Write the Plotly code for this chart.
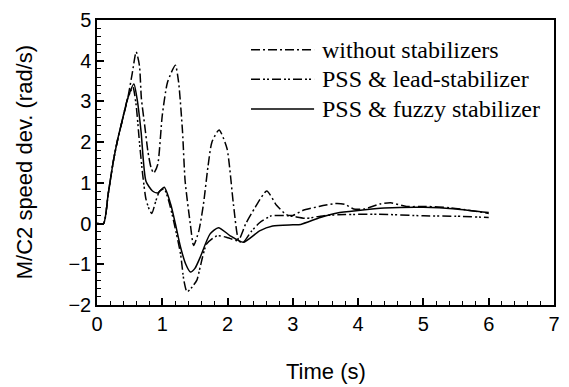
import plotly.graph_objects as go

# ---- data ----
t_without = [0, 0.1, 0.17, 0.25, 0.32, 0.37, 0.47, 0.54, 0.6, 0.65, 0.68, 0.73, 0.78, 0.83, 0.87, 0.93,
             1.0, 1.08, 1.2, 1.25, 1.31, 1.35, 1.43, 1.48, 1.56, 1.63, 1.7, 1.76, 1.87, 1.99, 2.09,
             2.17, 2.28, 2.42, 2.6, 2.75, 2.9, 3.0, 3.15, 3.4, 3.65, 3.8, 3.93, 4.1, 4.33, 4.5,
             4.74, 5.04, 5.4, 6.0]
v_without = [0, 0, 0.71, 1.53, 2.09, 2.42, 3.07, 3.69, 4.22, 3.88, 3.07, 2.42, 1.77, 1.36, 1.24, 1.45,
             2.66, 3.47, 3.89, 3.47, 2.26, 1.04, -0.02, -0.54, -0.18, 0.47, 1.4, 2.0, 2.3, 1.85, 0.47,
             -0.4, 0.0, 0.39, 0.8, 0.45, 0.22, 0.2, 0.32, 0.42, 0.49, 0.47, 0.36, 0.36, 0.48, 0.51,
             0.42, 0.42, 0.39, 0.25]

t_lead = [0, 0.1, 0.17, 0.25, 0.32, 0.37, 0.47, 0.55, 0.6, 0.65, 0.7, 0.75, 0.8, 0.84, 0.9, 0.96,
          1.03, 1.1, 1.18, 1.28, 1.33, 1.38, 1.46, 1.53, 1.58, 1.68, 1.84, 1.99, 2.14, 2.24, 2.36,
          2.49, 2.67, 2.95, 3.2, 3.5, 3.8, 4.3, 5.0, 5.5, 6.0]
v_lead = [0, 0, 0.71, 1.53, 2.09, 2.42, 3.07, 3.35, 2.9, 2.0, 1.2, 0.6, 0.35, 0.25, 0.55, 0.8,
          0.85, 0.55, 0.02, -0.75, -1.39, -1.68, -1.55, -1.39, -1.07, -0.5, -0.3, -0.34, -0.42, -0.46, -0.2,
          0.02, 0.19, 0.19, 0.13, 0.2, 0.22, 0.23, 0.19, 0.18, 0.15]

t_fuzzy = [0, 0.1, 0.17, 0.25, 0.32, 0.37, 0.47, 0.565, 0.62, 0.675, 0.75, 0.85, 0.93, 1.03, 1.13,
           1.2, 1.28, 1.36, 1.43, 1.5, 1.58, 1.73, 1.86, 2.04, 2.24, 2.49, 2.69, 3.0, 3.12, 3.42,
           3.68, 4.0, 4.4, 5.0, 5.5, 6.0]
v_fuzzy = [0, 0, 0.71, 1.53, 2.09, 2.42, 3.07, 3.43, 3.0, 2.26, 1.04, 0.8, 0.75, 0.89, 0.47,
           0.0, -0.58, -1.0, -1.19, -1.1, -0.83, -0.26, -0.1, -0.3, -0.46, -0.18, -0.06, -0.03, -0.02, 0.15,
           0.26, 0.32, 0.38, 0.4, 0.36, 0.27]

series_names = ["without stabilizers", "PSS & lead-stabilizer", "PSS & fuzzy stabilizer"]
x_ticks = [0, 1, 2, 3, 4, 5, 6, 7]
y_ticks = [-2, -1, 0, 1, 2, 3, 4, 5]

DASH_DOT = "9px,3px,2px,3px"
DASH_DOT_DOT = "9px,3px,2px,2px,2px,3px"
styles = [DASH_DOT, DASH_DOT_DOT, "solid"]
series = [(t_without, v_without), (t_lead, v_lead), (t_fuzzy, v_fuzzy)]

fig = go.Figure()
for (t, v), name, dash in zip(series, series_names, styles):
    fig.add_trace(go.Scatter(x=t, y=v, mode="lines", name=name,
                             line=dict(color="black", width=1.5, dash=dash, shape="spline", smoothing=0.6),
                             showlegend=False))

# manual legend (long line samples like the original)
leg_y = [0.896, 0.792, 0.688]
for name, dash, yy in zip(series_names, styles, leg_y):
    fig.add_shape(type="line", xref="paper", yref="paper", x0=0.337, x1=0.475, y0=yy, y1=yy,
                  line=dict(color="black", width=1.5, dash=dash))
    fig.add_annotation(xref="paper", yref="paper", x=0.488, y=yy, text=name, showarrow=False,
                       xanchor="left", yanchor="middle",
                       font=dict(family="Liberation Serif", size=24, color="black"))

# axis titles placed as text
fig.add_annotation(xref="paper", yref="paper", x=-0.158, y=0.5, text="M/C2 speed dev. (rad/s)",
                   textangle=-90, showarrow=False, xanchor="center", yanchor="middle",
                   font=dict(family="Liberation Sans", size=22, color="black"))
fig.add_annotation(xref="paper", yref="paper", x=0.5, y=-0.233, text="Time (s)",
                   showarrow=False, xanchor="center", yanchor="middle",
                   font=dict(family="Liberation Sans", size=22, color="black"))

axis_common = dict(showline=True, linecolor="black", linewidth=1.5, mirror=True,
                   ticks="inside", ticklen=7, tickwidth=1.5, tickcolor="black",
                   showgrid=False, zeroline=False, tickmode="linear", dtick=1,
                   tickfont=dict(family="Liberation Sans", size=20, color="black"),
                   minor=dict(dtick=0.2, ticks="inside", ticklen=4,
                              tickwidth=1.2, tickcolor="black", showgrid=False))

fig.update_xaxes(range=[0, 7], tick0=x_ticks[0], **axis_common)
fig.update_yaxes(range=[-2, 5], tick0=y_ticks[0], **axis_common)

fig.update_layout(width=569, height=387, margin=dict(l=97, r=9, t=17, b=82),
                  plot_bgcolor="white", paper_bgcolor="white")

fig.write_html("out.html")
